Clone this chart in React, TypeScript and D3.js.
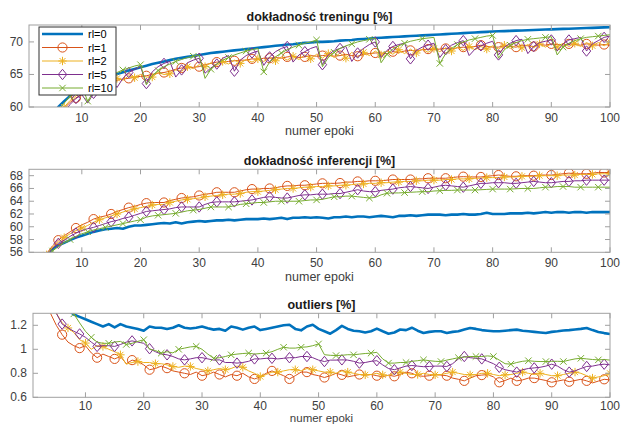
import React from 'react';
import * as d3 from 'd3';

const epochs = d3.range(1, 101);
const seriesNames = ['rl=0', 'rl=1', 'rl=2', 'rl=5', 'rl=10'];
const xTicks = [10, 20, 30, 40, 50, 60, 70, 80, 90, 100];

const titles = ['dokładność treningu [%]', 'dokładność inferencji [%]', 'outliers [%]'];
const xLabel = 'numer epoki';

const trainTicks = [60, 65, 70];
const infTicks = [56, 58, 60, 62, 64, 66, 68];
const outTicks = [0.6, 0.8, 1, 1.2];

// ---------- training accuracy ----------
const trainRl0 = [
  46, 51, 54.5, 57, 58.7, 60.0, 60.9, 61.7, 62.3, 62.9,
  63.4, 63.8, 64.2, 64.5, 64.8, 65.05, 65.35, 65.6, 65.85, 66.1,
  66.35, 66.6, 66.8, 67.0, 67.2, 67.4, 67.55, 67.7, 67.85, 68.0,
  68.15, 68.3, 68.4, 68.5, 68.6, 68.7, 68.8, 68.9, 69.0, 69.1,
  69.2, 69.3, 69.4, 69.5, 69.6, 69.65, 69.75, 69.85, 69.9, 70.0,
  70.0, 70.05, 70.1, 70.2, 70.25, 70.3, 70.4, 70.45, 70.5, 70.6,
  70.65, 70.7, 70.75, 70.8, 70.85, 70.9, 70.95, 71.0, 71.05, 71.1,
  71.15, 71.2, 71.25, 71.3, 71.35, 71.4, 71.45, 71.5, 71.55, 71.6,
  71.63, 71.66, 71.7, 71.73, 71.76, 71.8, 71.83, 71.86, 71.9, 71.93,
  71.96, 72.0, 72.03, 72.06, 72.1, 72.13, 72.16, 72.2, 72.23, 72.26,
];
const trainRl1 = [
  43, 48, 52, 55, 57.2, 58.6, 59.8, 60.7, 61.4, 62.0,
  62.4, 62.9, 63.3, 63.6, 63.9, 64.1, 64.3, 64.4, 64.6, 64.7,
  64.8, 65.0, 65.2, 65.3, 65.5, 65.8, 66.0, 66.0, 66.1, 66.2,
  66.5, 66.7, 66.9, 66.9, 67.0, 67.1, 67.2, 67.2, 67.4, 67.3,
  67.5, 67.5, 67.6, 67.5, 67.7, 67.8, 67.6, 67.7, 67.9, 67.8,
  67.9, 68.0, 67.8, 67.9, 68.1, 67.9, 67.8, 68.1, 68.2, 68.3,
  68.3, 68.2, 68.5, 68.4, 68.6, 68.7, 68.6, 68.8, 68.9, 68.8,
  68.9, 69.0, 68.9, 69.1, 69.2, 69.1, 69.3, 69.5, 69.3, 69.2,
  69.2, 69.4, 69.3, 69.2, 69.5, 69.4, 69.3, 69.6, 69.5, 69.7,
  69.6, 69.5, 69.7, 69.6, 69.5, 69.7, 69.6, 69.5, 69.6, 69.5,
];
const trainRl2 = [
  42, 47, 51, 54, 56.5, 58.4, 60.0, 61.0, 61.7, 62.3,
  62.5, 63.2, 63.2, 63.9, 63.7, 64.4, 64.1, 64.8, 64.5, 65.0,
  64.6, 64.6, 65.3, 65.0, 65.1, 65.7, 65.5, 66.2, 65.9, 66.5,
  66.2, 66.8, 66.4, 67.0, 66.6, 67.2, 66.7, 67.3, 66.9, 67.4,
  67.0, 67.6, 67.1, 67.7, 67.2, 67.8, 67.3, 68.0, 67.4, 68.1,
  67.5, 68.2, 67.6, 68.3, 67.5, 68.4, 67.7, 68.4, 67.9, 68.6,
  68.0, 68.6, 68.1, 68.8, 68.2, 68.9, 68.3, 68.9, 68.4, 69.0,
  68.5, 69.1, 68.6, 69.2, 68.7, 69.3, 68.8, 69.3, 68.9, 69.4,
  68.9, 69.5, 69.0, 69.5, 69.1, 69.6, 69.1, 69.7, 69.2, 69.7,
  69.2, 69.8, 69.3, 69.8, 69.3, 69.9, 69.4, 69.9, 69.4, 70.0,
];
const trainRl5 = [
  44, 49, 53, 55.5, 57.5, 57.0, 59.2, 60.4, 61.3, 61.9,
  60.6, 62.1, 63.0, 63.6, 64.1, 63.0, 64.4, 65.3, 65.8, 66.2,
  63.6, 65.4, 66.2, 66.7, 67.0, 64.6, 65.7, 66.8, 67.2, 67.5,
  65.2, 66.0, 66.6, 67.5, 67.9, 65.5, 67.2, 67.9, 68.3, 68.6,
  66.4, 67.7, 68.5, 69.0, 69.3, 66.9, 68.0, 68.5, 69.0, 69.3,
  66.5, 68.0, 68.7, 69.0, 69.3, 67.0, 68.3, 69.0, 69.6, 70.0,
  67.6, 68.7, 69.3, 69.6, 69.8, 67.4, 68.7, 69.2, 69.5, 69.8,
  67.6, 68.8, 69.5, 69.9, 70.2, 67.9, 68.9, 69.4, 69.8, 70.1,
  68.0, 69.2, 69.8, 70.2, 70.4, 68.2, 69.3, 69.9, 70.1, 70.3,
  68.6, 69.7, 70.3, 70.5, 70.7, 68.6, 69.7, 70.2, 70.7, 70.9,
];
const trainRl10 = [
  45, 50, 53.5, 56, 58, 59.5, 60.6, 61.6, 62.5, 63.2,
  60.9, 62.4, 63.4, 64.2, 64.8, 65.3, 65.7, 66.0, 66.3, 66.5,
  63.4, 64.8, 65.6, 66.2, 66.6, 67.0, 67.3, 67.6, 67.8, 68.0,
  64.4, 65.8, 66.6, 67.2, 67.6, 68.0, 68.3, 68.6, 68.8, 69.0,
  65.4, 66.9, 67.7, 68.3, 68.8, 69.2, 69.5, 69.8, 70.0, 70.3,
  66.2, 67.6, 68.4, 69.0, 69.4, 69.7, 70.0, 70.2, 70.4, 70.6,
  66.8, 68.1, 68.9, 69.4, 69.8, 70.1, 70.3, 70.5, 70.6, 70.7,
  66.7, 68.2, 69.0, 69.6, 70.0, 70.3, 70.5, 70.7, 70.9, 71.0,
  67.5, 68.8, 69.5, 69.9, 70.2, 70.4, 70.5, 70.6, 70.7, 70.8,
  68.0, 69.2, 69.8, 70.2, 70.5, 70.7, 70.8, 70.9, 71.0, 71.1,
];

// ---------- inference accuracy ----------
const infRl0 = [
  49, 52, 54.2, 55.6, 56.5, 57.1, 57.5, 57.9, 58.3, 58.6,
  58.9, 59.2, 59.4, 59.6, 59.7, 59.8, 59.7, 60.0, 60.2, 60.2,
  60.3, 60.4, 60.5, 60.6, 60.5, 60.7, 60.5, 60.7, 60.8, 60.9,
  60.8, 60.9, 61.0, 61.0, 61.1, 61.0, 61.1, 61.2, 61.2, 61.2,
  61.3, 61.2, 61.3, 61.4, 61.2, 61.4, 61.4, 61.5, 61.4, 61.5,
  61.4, 61.3, 61.5, 61.5, 61.6, 61.5, 61.6, 61.6, 61.5, 61.6,
  61.7, 61.6, 61.5, 61.7, 61.7, 61.8, 61.7, 61.8, 61.9, 61.9,
  61.9, 61.8, 61.9, 61.9, 62.0, 61.9, 61.9, 62.0, 62.2, 62.0,
  62.0, 62.0, 62.1, 62.1, 62.1, 62.2, 62.1, 62.2, 62.3, 62.2,
  62.3, 62.3, 62.2, 62.3, 62.3, 62.2, 62.3, 62.3, 62.3, 62.3,
];
const infRl1 = [
  47, 51, 53.8, 55.8, 57.0, 57.9, 58.6, 59.2, 59.8, 60.3,
  60.7, 61.2, 61.5, 61.7, 62.0, 62.4, 62.7, 63.0, 63.2, 63.5,
  63.7, 63.8, 63.8, 63.8, 64.1, 64.3, 64.5, 64.6, 64.7, 64.9,
  65.1, 65.2, 65.4, 65.4, 65.4, 65.4, 65.6, 65.8, 65.9, 65.9,
  66.0, 66.0, 66.1, 66.3, 66.4, 66.4, 66.5, 66.5, 66.6, 66.7,
  66.8, 66.8, 66.8, 66.85, 67.0, 67.0, 67.1, 67.1, 67.2, 67.2,
  67.2, 67.3, 67.4, 67.4, 67.4, 67.4, 67.5, 67.5, 67.6, 67.6,
  67.6, 67.6, 67.7, 67.8, 67.85, 67.8, 67.8, 67.8, 67.9, 68.0,
  68.1, 68.0, 67.9, 67.9, 68.0, 68.0, 68.0, 68.1, 68.1, 68.1,
  68.2, 68.3, 68.4, 68.3, 68.3, 68.3, 68.4, 68.5, 68.5, 68.5,
];
const infRl2 = [
  46.5, 50.5, 53.5, 55.6, 56.8, 57.6, 58.3, 58.9, 59.4, 59.8,
  60.2, 60.7, 61.1, 61.4, 61.7, 62.0, 62.3, 62.6, 62.8, 63.0,
  63.2, 63.4, 63.5, 63.5, 63.8, 64.0, 64.2, 64.3, 64.4, 64.5,
  64.7, 64.8, 64.9, 65.0, 65.1, 65.1, 65.2, 65.4, 65.5, 65.5,
  65.6, 65.7, 65.8, 65.9, 66.0, 66.0, 66.1, 66.2, 66.2, 66.3,
  66.3, 66.4, 66.4, 66.5, 66.5, 66.6, 66.7, 66.7, 66.8, 66.8,
  66.9, 66.9, 67.0, 67.0, 67.1, 67.1, 67.2, 67.2, 67.3, 67.3,
  67.3, 67.4, 67.4, 67.5, 67.5, 67.5, 67.6, 67.6, 67.7, 67.7,
  67.7, 67.8, 67.8, 67.8, 67.9, 67.9, 67.9, 68.0, 68.0, 68.0,
  68.0, 68.1, 68.1, 68.1, 68.2, 68.2, 68.2, 68.3, 68.3, 68.3,
];
const infRl5 = [
  47.5, 51, 53.5, 55.4, 56.6, 57.4, 57.9, 58.5, 59.0, 59.4,
  59.7, 59.9, 60.2, 60.5, 60.8, 61.0, 61.3, 61.5, 61.8, 62.1,
  62.4, 62.5, 62.6, 62.7, 62.8, 63.0, 63.1, 63.1, 63.1, 63.1,
  63.5, 63.8, 63.9, 63.9, 63.9, 63.9, 64.0, 64.1, 64.2, 64.4,
  64.6, 64.7, 64.6, 64.5, 64.5, 64.7, 64.9, 65.0, 65.0, 65.1,
  65.1, 65.1, 65.2, 65.2, 65.4, 65.6, 65.8, 65.6, 65.5, 65.5,
  65.7, 65.8, 65.9, 66.1, 66.2, 66.3, 66.2, 66.1, 66.0, 66.2,
  66.4, 66.5, 66.4, 66.3, 66.2, 66.4, 66.6, 66.8, 66.8, 66.9,
  66.9, 66.9, 66.8, 66.8, 66.9, 67.0, 67.1, 67.0, 66.9, 66.9,
  67.0, 67.1, 67.1, 67.2, 67.2, 67.3, 67.3, 67.3, 67.3, 67.3,
];
const infRl10 = [
  47, 50.5, 53.2, 55.2, 56.2, 56.9, 57.5, 58.0, 58.5, 58.9,
  59.2, 59.5, 59.7, 59.9, 60.1, 60.3, 60.5, 60.7, 60.9, 61.1,
  61.5, 61.7, 61.8, 61.9, 62.0, 62.1, 62.3, 62.5, 62.6, 62.7,
  62.9, 63.1, 63.1, 63.1, 63.1, 63.3, 63.5, 63.6, 63.7, 63.8,
  63.8, 63.9, 64.0, 64.0, 64.0, 64.0, 64.0, 64.1, 64.2, 64.2,
  64.3, 64.5, 64.7, 64.7, 64.8, 64.8, 64.7, 64.6, 64.5, 64.6,
  65.0, 65.25, 65.3, 65.3, 65.35, 65.4, 65.45, 65.5, 65.5, 65.6,
  65.65, 65.7, 65.7, 65.75, 65.75, 65.75, 65.75, 65.8, 65.85, 65.9,
  65.9, 65.9, 65.9, 65.95, 66.0, 66.0, 66.0, 66.1, 66.2, 66.2,
  66.3, 66.3, 66.3, 66.2, 66.2, 66.2, 66.2, 66.2, 66.2, 66.2,
];

// ---------- outliers ----------
const outRl0 = [
  2.2, 1.9, 1.7, 1.55, 1.45, 1.38, 1.33, 1.29, 1.27, 1.25,
  1.23, 1.21, 1.19, 1.21, 1.183, 1.21, 1.19, 1.18, 1.17, 1.155,
  1.19, 1.18, 1.18, 1.17, 1.18, 1.2, 1.18, 1.173, 1.18, 1.19,
  1.175, 1.164, 1.17, 1.155, 1.19, 1.18, 1.164, 1.18, 1.19, 1.16,
  1.17, 1.18, 1.19, 1.2, 1.205, 1.17, 1.158, 1.19, 1.205, 1.17,
  1.15, 1.13, 1.16, 1.195, 1.17, 1.155, 1.15, 1.14, 1.15, 1.172,
  1.15, 1.13, 1.14, 1.165, 1.16, 1.18, 1.155, 1.136, 1.145, 1.15,
  1.15, 1.136, 1.145, 1.15, 1.165, 1.178, 1.17, 1.16, 1.155, 1.15,
  1.15, 1.155, 1.16, 1.164, 1.155, 1.15, 1.145, 1.14, 1.136, 1.145,
  1.15, 1.157, 1.16, 1.165, 1.17, 1.178, 1.16, 1.145, 1.135, 1.128,
];
const outRl1 = [
  2.0, 1.7, 1.45, 1.3, 1.2, 1.122, 1.06, 1.03, 1.01, 1.03,
  0.97, 0.93, 0.96, 0.94, 0.92, 0.94, 0.88, 0.91, 0.9, 0.87,
  0.83, 0.84, 0.86, 0.843, 0.82, 0.81, 0.8, 0.79, 0.81, 0.78,
  0.79, 0.81, 0.79, 0.77, 0.79, 0.78, 0.8, 0.77, 0.753, 0.77,
  0.8, 0.82, 0.8, 0.78, 0.753, 0.78, 0.81, 0.81, 0.79, 0.78,
  0.765, 0.78, 0.8, 0.787, 0.77, 0.78, 0.79, 0.785, 0.79, 0.78,
  0.77, 0.785, 0.775, 0.79, 0.81, 0.8, 0.78, 0.775, 0.78, 0.79,
  0.785, 0.78, 0.76, 0.75, 0.737, 0.76, 0.78, 0.785, 0.79, 0.77,
  0.725, 0.74, 0.76, 0.737, 0.745, 0.76, 0.76, 0.75, 0.74, 0.725,
  0.735, 0.745, 0.73, 0.74, 0.75, 0.737, 0.72, 0.735, 0.75, 0.745,
];
const outRl2 = [
  2.1, 1.8, 1.55, 1.4, 1.3, 1.22, 1.178, 1.14, 1.08, 1.052,
  1.0, 1.03, 1.024, 1.0, 0.98, 0.954, 0.876, 0.89, 0.898, 0.89,
  0.89, 0.88, 0.88, 0.87, 0.857, 0.85, 0.86, 0.857, 0.84, 0.83,
  0.82, 0.83, 0.84, 0.83, 0.84, 0.86, 0.85, 0.82, 0.8, 0.773,
  0.79, 0.81, 0.81, 0.82, 0.83, 0.83, 0.82, 0.84, 0.83, 0.82,
  0.81, 0.81, 0.8, 0.82, 0.81, 0.8, 0.79, 0.787, 0.79, 0.8,
  0.787, 0.78, 0.8, 0.81, 0.8, 0.79, 0.79, 0.8, 0.79, 0.787,
  0.79, 0.8, 0.81, 0.8, 0.79, 0.787, 0.79, 0.8, 0.8, 0.79,
  0.78, 0.787, 0.79, 0.8, 0.81, 0.8, 0.79, 0.8, 0.79, 0.78,
  0.78, 0.79, 0.8, 0.81, 0.8, 0.78, 0.76, 0.77, 0.78, 0.8,
];
const outRl5 = [
  2.3, 1.9, 1.6, 1.42, 1.3, 1.21, 1.18, 1.15, 1.128, 1.1,
  1.06, 1.024, 1.03, 1.03, 1.024, 1.04, 1.06, 1.07, 1.06, 1.05,
  1.005, 0.98, 0.96, 0.954, 0.94, 0.92, 0.912, 0.92, 0.93, 0.93,
  0.92, 0.91, 0.912, 0.89, 0.89, 0.885, 0.89, 0.9, 0.92, 0.92,
  0.925, 0.925, 0.92, 0.925, 0.93, 0.93, 0.94, 0.94, 0.93, 0.91,
  0.898, 0.91, 0.91, 0.912, 0.91, 0.9, 0.885, 0.89, 0.9, 0.905,
  0.87, 0.84, 0.83, 0.845, 0.86, 0.865, 0.86, 0.855, 0.857, 0.86,
  0.86, 0.857, 0.88, 0.92, 0.94, 0.93, 0.925, 0.92, 0.9, 0.88,
  0.85, 0.83, 0.82, 0.81, 0.83, 0.84, 0.845, 0.85, 0.86, 0.876,
  0.86, 0.83, 0.81, 0.82, 0.84, 0.857, 0.86, 0.87, 0.876, 0.87,
];
const outRl10 = [
  2.5, 2.1, 1.85, 1.65, 1.5, 1.4, 1.33, 1.295, 1.22, 1.15,
  1.1, 1.06, 1.05, 1.05, 1.06, 1.066, 1.04, 1.05, 1.066, 1.08,
  1.0, 0.99, 0.968, 0.98, 0.97, 1.0, 1.01, 1.02, 1.024, 1.0,
  0.96, 0.925, 0.93, 0.94, 0.954, 0.96, 0.965, 0.968, 0.96, 0.965,
  0.968, 0.98, 1.0, 1.017, 1.01, 1.01, 1.017, 1.02, 1.03, 1.045,
  0.955, 0.95, 0.948, 0.95, 0.955, 0.954, 0.96, 0.965, 0.968, 0.975,
  0.92, 0.885, 0.885, 0.89, 0.89, 0.9, 0.905, 0.912, 0.905, 0.9,
  0.898, 0.91, 0.92, 0.93, 0.935, 0.94, 0.94, 0.94, 0.945, 0.94,
  0.91, 0.88, 0.876, 0.89, 0.9, 0.905, 0.9, 0.898, 0.898, 0.9,
  0.9, 0.898, 0.91, 0.92, 0.925, 0.92, 0.915, 0.912, 0.915, 0.91,
];

const COLORS = ['#0072BD', '#D95319', '#EDB120', '#7E2F8E', '#77AC30'];
const MARKERS = ['none', 'circle', 'star', 'diamond', 'x'];
const MARKER_PHASE = [-1, 0, 1, 0, 2];
const WIDTHS = [2.6, 1, 1, 1, 1];

const FONT = '"Liberation Sans", Arial, Helvetica, sans-serif';
const AXIS_COLOR = '#a0a0a0';
const TEXT_COLOR = '#404040';

type Panel = {
  title: string;
  data: number[][];
  yDomain: [number, number];
  yTicks: number[];
  left: number;
  right: number;
  top: number;
  bottom: number;
  tickY: number;
  labelY: number;
  labelSize: number;
};

const panels: Panel[] = [
  { title: titles[0], data: [trainRl0, trainRl1, trainRl2, trainRl5, trainRl10], yDomain: [60, 72.6], yTicks: trainTicks, left: 29, right: 610, top: 25, bottom: 107, tickY: 122, labelY: 134.5, labelSize: 12.5 },
  { title: titles[1], data: [infRl0, infRl1, infRl2, infRl5, infRl10], yDomain: [56, 69], yTicks: infTicks, left: 29, right: 610, top: 169.3, bottom: 252.3, tickY: 267.3, labelY: 280.5, labelSize: 12.5 },
  { title: titles[2], data: [outRl0, outRl1, outRl2, outRl5, outRl10], yDomain: [0.6, 1.3], yTicks: outTicks, left: 33, right: 610, top: 313.3, bottom: 397.3, tickY: 409.8, labelY: 422.2, labelSize: 11.5 },
];

function Marker({ kind, x, y, color }: { kind: string; x: number; y: number; color: string }) {
  const sw = 1;
  if (kind === 'circle') return <circle cx={x} cy={y} r={4.6} fill="none" stroke={color} strokeWidth={sw} />;
  if (kind === 'diamond') return <path d={`M${x},${y - 5.2}L${x + 4.2},${y}L${x},${y + 5.2}L${x - 4.2},${y}Z`} fill="none" stroke={color} strokeWidth={sw} />;
  if (kind === 'x') {
    const s = 3.2;
    return <path d={`M${x - s},${y - s}L${x + s},${y + s}M${x - s},${y + s}L${x + s},${y - s}`} stroke={color} strokeWidth={sw} fill="none" />;
  }
  if (kind === 'star') {
    const s = 4.2, d = 3.0;
    return <path d={`M${x - s},${y}L${x + s},${y}M${x},${y - s}L${x},${y + s}M${x - d},${y - d}L${x + d},${y + d}M${x - d},${y + d}L${x + d},${y - d}`} stroke={color} strokeWidth={sw} fill="none" />;
  }
  return null;
}

function PanelView({ p, idx }: { p: Panel; idx: number }) {
  const x = d3.scaleLinear().domain([1, 100]).range([p.left, p.right]);
  const y = d3.scaleLinear().domain(p.yDomain).range([p.bottom, p.top]);
  const line = d3.line<number>().x((_, i) => x(epochs[i])).y((v) => y(v));
  const clipId = `clip${idx}`;
  const tl = 5;
  const cx = (p.left + p.right) / 2;
  return (
    <g>
      <defs>
        <clipPath id={clipId}>
          <rect x={p.left} y={p.top} width={p.right - p.left} height={p.bottom - p.top} />
        </clipPath>
      </defs>
      <rect x={p.left} y={p.top} width={p.right - p.left} height={p.bottom - p.top} fill="#fff" />
      <g clipPath={`url(#${clipId})`}>
        {p.data.map((s, si) => (
          <g key={si}>
            <path d={line(s) || ''} fill="none" stroke={COLORS[si]} strokeWidth={WIDTHS[si]} strokeLinejoin="round" />
            {MARKERS[si] !== 'none' &&
              s.map((v, i) =>
                epochs[i] % 3 === MARKER_PHASE[si] ? (
                  <Marker key={i} kind={MARKERS[si]} x={x(epochs[i])} y={y(v)} color={COLORS[si]} />
                ) : null
              )}
          </g>
        ))}
      </g>
      <rect x={p.left} y={p.top} width={p.right - p.left} height={p.bottom - p.top} fill="none" stroke={AXIS_COLOR} strokeWidth={1} />
      {xTicks.map((t) => (
        <g key={t}>
          <line x1={x(t)} x2={x(t)} y1={p.bottom} y2={p.bottom - tl} stroke={AXIS_COLOR} />
          <line x1={x(t)} x2={x(t)} y1={p.top} y2={p.top + tl} stroke={AXIS_COLOR} />
          <text x={x(t)} y={p.tickY} textAnchor="middle" fontSize={12} fill={TEXT_COLOR} fontFamily={FONT}>{t}</text>
        </g>
      ))}
      {p.yTicks.map((t) => (
        <g key={t}>
          <line x1={p.left} x2={p.left + tl} y1={y(t)} y2={y(t)} stroke={AXIS_COLOR} />
          <line x1={p.right} x2={p.right - tl} y1={y(t)} y2={y(t)} stroke={AXIS_COLOR} />
          <text x={p.left - 6} y={y(t) + 4} textAnchor="end" fontSize={12} fill={TEXT_COLOR} fontFamily={FONT}>{String(t)}</text>
        </g>
      ))}
      <text x={cx} y={p.top - 4} textAnchor="middle" fontSize={12.5} fontWeight="bold" fill="#1a1a1a" fontFamily={FONT}>{p.title}</text>
      <text x={cx} y={p.labelY} textAnchor="middle" fontSize={p.labelSize} fill={TEXT_COLOR} fontFamily={FONT}>{xLabel}</text>
    </g>
  );
}

function Legend() {
  const lx = 39, ly = 27, lw = 77, lh = 68;
  const rowH = 13.5;
  return (
    <g>
      <rect x={lx} y={ly} width={lw} height={lh} fill="#fff" stroke="#303030" strokeWidth={1} />
      {seriesNames.map((name, i) => {
        const cy = ly + 7 + i * rowH;
        return (
          <g key={name}>
            <line x1={lx + 3} x2={lx + 44} y1={cy} y2={cy} stroke={COLORS[i]} strokeWidth={WIDTHS[i]} />
            {MARKERS[i] !== 'none' && <Marker kind={MARKERS[i]} x={lx + 23.5} y={cy} color={COLORS[i]} />}
            <text x={lx + 49} y={cy + 4} fontSize={11} fill="#000" fontFamily={FONT}>{name}</text>
          </g>
        );
      })}
    </g>
  );
}

export default function App() {
  return (
    <svg width={621} height={425} style={{ position: 'absolute', left: 0, top: 0, background: '#fff' }}>
      <rect x={0} y={0} width={621} height={425} fill="#fff" />
      {panels.map((p, i) => (
        <PanelView key={i} p={p} idx={i} />
      ))}
      <Legend />
    </svg>
  );
}
